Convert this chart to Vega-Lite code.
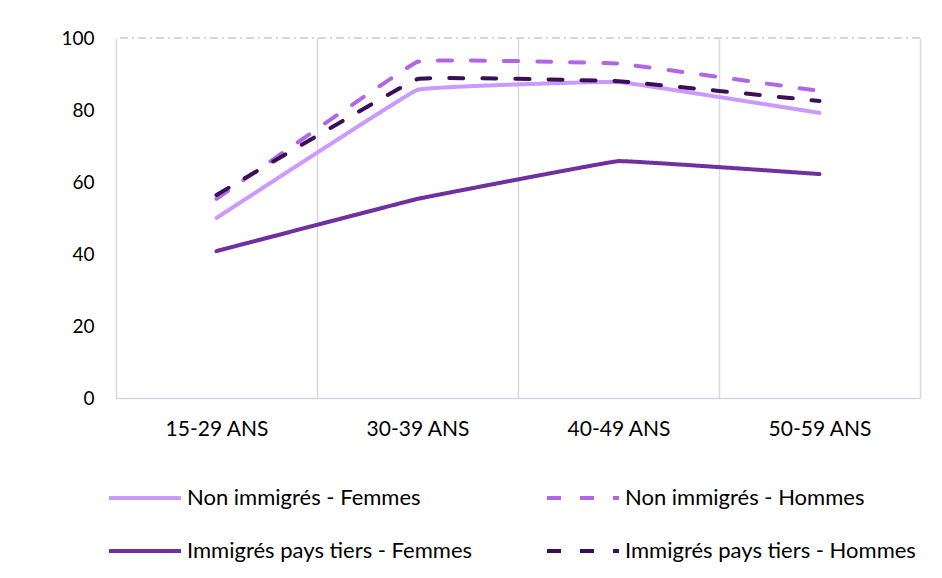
{
  "$schema": "https://vega.github.io/schema/vega-lite/v6.json",
  "width": 804,
  "height": 360,
  "autosize": {"type": "none"},
  "padding": {"left": 116, "top": 38, "right": 22, "bottom": 180},
  "background": "white",
  "config": {
    "view": {"stroke": null},
    "font": "Lato"
  },
  "data": {
    "values": [
      {"age": "15-29 ANS", "serie": "Non immigrés - Femmes", "v": 50.0},
      {"age": "30-39 ANS", "serie": "Non immigrés - Femmes", "v": 85.6},
      {"age": "40-49 ANS", "serie": "Non immigrés - Femmes", "v": 87.8},
      {"age": "50-59 ANS", "serie": "Non immigrés - Femmes", "v": 79.2},
      {"age": "15-29 ANS", "serie": "Non immigrés - Hommes", "v": 55.3},
      {"age": "30-39 ANS", "serie": "Non immigrés - Hommes", "v": 93.4},
      {"age": "40-49 ANS", "serie": "Non immigrés - Hommes", "v": 92.9},
      {"age": "50-59 ANS", "serie": "Non immigrés - Hommes", "v": 85.3},
      {"age": "15-29 ANS", "serie": "Immigrés pays tiers - Femmes", "v": 40.8},
      {"age": "30-39 ANS", "serie": "Immigrés pays tiers - Femmes", "v": 55.3},
      {"age": "40-49 ANS", "serie": "Immigrés pays tiers - Femmes", "v": 65.8},
      {"age": "50-59 ANS", "serie": "Immigrés pays tiers - Femmes", "v": 62.2},
      {"age": "15-29 ANS", "serie": "Immigrés pays tiers - Hommes", "v": 56.4},
      {"age": "30-39 ANS", "serie": "Immigrés pays tiers - Hommes", "v": 88.6},
      {"age": "40-49 ANS", "serie": "Immigrés pays tiers - Hommes", "v": 88.0},
      {"age": "50-59 ANS", "serie": "Immigrés pays tiers - Hommes", "v": 82.5}
    ]
  },
  "layer": [
    {
      "mark": {"type": "rule", "color": "#D6D3E8", "strokeWidth": 1.5, "strokeDash": [8, 4, 2, 4]},
      "encoding": {"y": {"datum": 100, "type": "quantitative", "scale": {"domain": [0, 100]}}}
    },
    {
      "mark": {"type": "line", "strokeWidth": 4, "strokeCap": "round", "interpolate": "cardinal", "tension": 0.85},
      "encoding": {
        "x": {
          "field": "age", "type": "ordinal",
          "scale": {"type": "band", "paddingInner": 0, "paddingOuter": 0},
          "axis": {
            "title": null, "labelAngle": 0, "tickBand": "extent", "ticks": false,
            "grid": true, "gridColor": "#D9D9D9", "gridWidth": 1.5,
            "domainColor": "#D6D3E8", "domainWidth": 1.5,
            "labelFontSize": 21, "labelColor": "#000000", "labelPadding": 20,
            "labelFont": "Lato"
          }
        },
        "y": {
          "field": "v", "type": "quantitative",
          "scale": {"domain": [0, 100]},
          "axis": {
            "title": null, "values": [0, 20, 40, 60, 80, 100], "grid": false,
            "domain": false, "ticks": false, "labelFontSize": 19,
            "labelColor": "#000000", "labelPadding": 22, "labelFont": "Lato"
          }
        },
        "color": {
          "field": "serie", "type": "nominal",
          "sort": ["Non immigrés - Femmes", "Immigrés pays tiers - Femmes", "Non immigrés - Hommes", "Immigrés pays tiers - Hommes"],
          "scale": {
            "domain": ["Non immigrés - Femmes", "Immigrés pays tiers - Femmes", "Non immigrés - Hommes", "Immigrés pays tiers - Hommes"],
            "range": ["#CC99FF", "#7030A0", "#B266E6", "#3B0F55"]
          },
          "legend": {
            "title": null, "orient": "none", "legendX": -9, "legendY": 422,
            "columns": 2, "columnPadding": 66, "rowPadding": 4,
            "symbolType": "stroke", "symbolSize": 5184, "symbolStrokeWidth": 4,
            "labelFontSize": 22, "labelColor": "#000000", "labelOffset": 4, "labelFont": "Lato",
            "labelLimit": 400
          }
        },
        "strokeDash": {
          "field": "serie", "type": "nominal",
          "sort": ["Non immigrés - Femmes", "Immigrés pays tiers - Femmes", "Non immigrés - Hommes", "Immigrés pays tiers - Hommes"],
          "scale": {
            "domain": ["Non immigrés - Femmes", "Immigrés pays tiers - Femmes", "Non immigrés - Hommes", "Immigrés pays tiers - Hommes"],
            "range": [[1, 0], [1, 0], [14, 19], [14, 19]]
          },
          "legend": {
            "title": null, "orient": "none", "legendX": -9, "legendY": 422,
            "columns": 2, "columnPadding": 66, "rowPadding": 4,
            "symbolType": "stroke", "symbolSize": 5184, "symbolStrokeWidth": 4,
            "labelFontSize": 22, "labelColor": "#000000", "labelOffset": 4, "labelFont": "Lato",
            "labelLimit": 400
          }
        }
      }
    }
  ]
}
